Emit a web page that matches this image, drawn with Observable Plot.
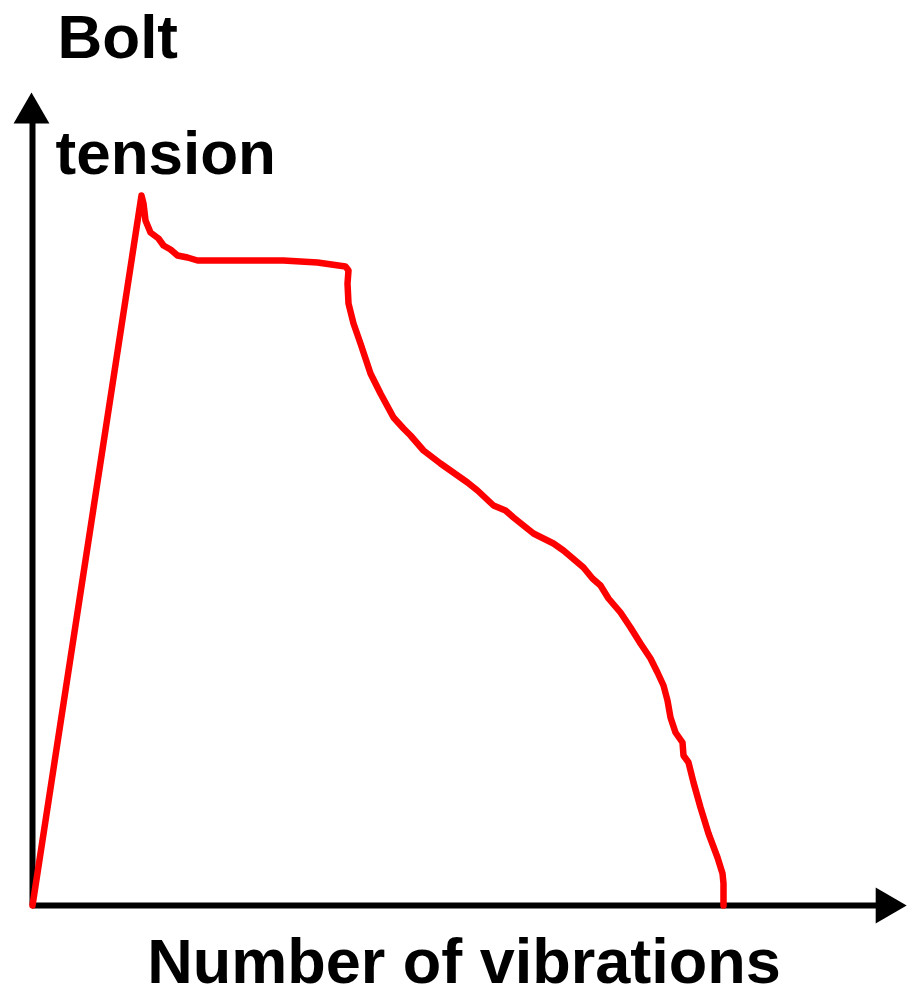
<!DOCTYPE html>
<html>
<head>
<meta charset="utf-8">
<script src="https://cdn.jsdelivr.net/npm/d3@7"></script>
<script src="https://cdn.jsdelivr.net/npm/@observablehq/plot@0.6"></script>
<style>
  html, body { margin: 0; padding: 0; background: #fff; }
</style>
</head>
<body>
<div id="chart"></div>
<script>
// Values (arbitrary units: vibrations along x, tension along y)
const vibrations = [0, 109, 111, 113, 118, 126, 131, 138, 145, 155, 165, 201, 251, 285, 313, 316, 315, 316, 321, 328, 338, 348, 361, 371, 378, 391, 408, 435, 445, 461, 473, 481, 501, 521, 531, 551, 560, 568, 576, 588, 598, 608, 618, 625, 631, 635, 638, 643, 650, 651, 656, 661, 668, 676, 685, 690, 691, 691];
const tension =    [0, 710, 702, 685, 673, 667, 660, 656, 650, 648, 645, 645, 645, 643, 639, 635, 622, 602, 582, 562, 532, 512, 488, 477, 470, 455, 442, 423, 415, 400, 395, 388, 372, 362, 355, 338, 327, 320, 307, 293, 278, 262, 247, 233, 220, 205, 188, 173, 163, 150, 143, 123, 98, 72, 48, 32, 22, 0];
const xLabel = "Number of vibrations";
const yLabelLines = ["Bolt", "tension"];
const xMax = 875;
const yMax = 813;

const curve = vibrations.map((v, i) => ({v, t: tension[i]}));
const font = "'Liberation Sans', Arial, Helvetica, sans-serif";

const chart = Plot.plot({
  width: 907,
  height: 994,
  marginLeft: 32,
  marginRight: 0,
  marginTop: 92,
  marginBottom: 89,
  x: {domain: [0, xMax], axis: null},
  y: {domain: [0, yMax], axis: null},
  style: {background: "#fff", fontFamily: font, overflow: "visible"},
  marks: [
    // axes
    Plot.ruleY([0], {x1: 0, x2: xMax - 30, stroke: "black", strokeWidth: 6}),
    Plot.ruleX([0], {y1: 0, y2: yMax - 25, stroke: "black", strokeWidth: 6}),
    // arrow heads
    Plot.dot([{x: xMax, y: 0}], {x: "x", y: "y", symbol: "triangle", r: 13.3, fill: "black", stroke: "none", rotate: 90, dx: -21.5}),
    Plot.dot([{x: 0, y: yMax}], {x: "x", y: "y", symbol: "triangle", r: 13.3, fill: "black", stroke: "none", dx: -1, dy: 20.7}),
    // curve
    Plot.line(curve, {x: "v", y: "t", stroke: "#ff0000", strokeWidth: 6.5, strokeLinejoin: "round", strokeLinecap: "round"}),
    // labels
    Plot.text([yLabelLines[0]], {frameAnchor: "top-left", text: d => d, textAnchor: "start", lineAnchor: "bottom", dx: 25, dy: -35, fontSize: 62, fontWeight: "bold", fill: "black"}),
    Plot.text([yLabelLines[1]], {frameAnchor: "top-left", text: d => d, textAnchor: "start", lineAnchor: "bottom", dx: 23, dy: 81, fontSize: 62, fontWeight: "bold", fill: "black"}),
    Plot.text([xLabel], {frameAnchor: "bottom", text: d => d, textAnchor: "middle", lineAnchor: "bottom", dx: -6, dy: 77, fontSize: 63, fontWeight: "bold", fill: "black"})
  ]
});
document.getElementById("chart").appendChild(chart);
</script>
</body>
</html>
